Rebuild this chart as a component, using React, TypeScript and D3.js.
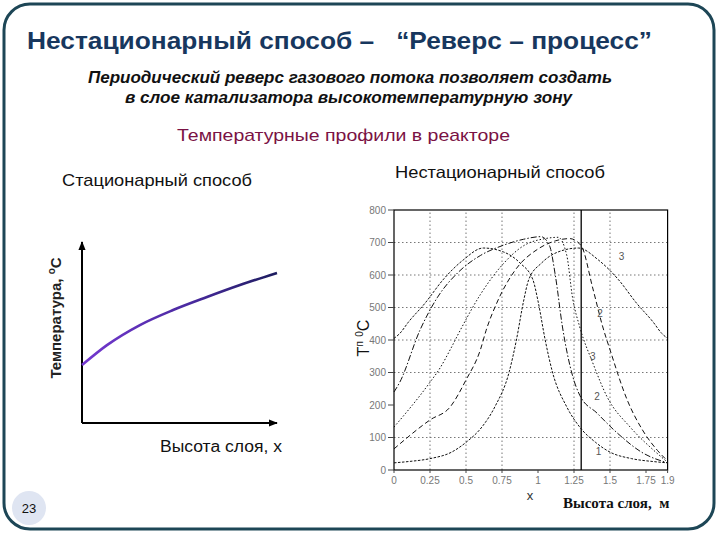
import React from 'react';
import * as d3 from 'd3';

// ---------- data ----------
// Left chart: stationary temperature profile (arbitrary units, no ticks)
const stationaryX = [0, 1.28, 2.97, 4.67, 6.41, 8.1, 10];
const stationaryT = [3.2, 4.3, 5.41, 6.24, 6.96, 7.62, 8.29];

// Right chart: axis ticks
const xTicks = [0, 0.25, 0.5, 0.75, 1, 1.25, 1.5, 1.75, 1.9];
const xTickLabels = ['0', '0.25', '0.5', '0.75', '1', '1.25', '1.5', '1.75', '1.9'];
const yTicks = [0, 100, 200, 300, 400, 500, 600, 700, 800];
const xGrid = [0.25, 0.5, 0.75, 1.25, 1.5];
const yGrid = [100, 300, 400, 500, 600, 700];
const reversalX = 1.3;

// Right chart: temperature profiles [x, T]
const profileA: [number, number][] = [
  [0, 405], [0.04, 420], [0.1, 455], [0.215, 513], [0.34, 585], [0.48, 646], [0.62, 683],
  [0.76, 671], [0.875, 637], [0.965, 585], [1.0, 520], [1.05, 400], [1.1, 302], [1.2, 194],
  [1.29, 132], [1.4, 85], [1.5, 55], [1.65, 35], [1.8, 26], [1.9, 22],
];
const profileB: [number, number][] = [
  [0, 22], [0.1, 26], [0.25, 35], [0.4, 55], [0.5, 85], [0.61, 132], [0.7, 194], [0.8, 302],
  [0.85, 400], [0.9, 520], [0.935, 585], [1.025, 637], [1.14, 671], [1.28, 683], [1.42, 646],
  [1.56, 585], [1.685, 513], [1.8, 455], [1.86, 420], [1.9, 405],
];
const profileF: [number, number][] = [
  [0, 240], [0.04, 270], [0.18, 430], [0.3, 530], [0.45, 610], [0.6, 660], [0.75, 690],
  [0.9, 710], [1.02, 718], [1.08, 690], [1.12, 600], [1.17, 440], [1.24, 290], [1.29, 230],
  [1.41, 175], [1.55, 114], [1.73, 52], [1.9, 22],
];
const profileE: [number, number][] = [
  [0, 132], [0.25, 270], [0.32, 314], [0.39, 370], [0.46, 430], [0.6, 540], [0.75, 630],
  [0.9, 690], [1.05, 712], [1.14, 716], [1.2, 660], [1.24, 530], [1.29, 440], [1.38, 330],
  [1.48, 225], [1.64, 132], [1.8, 62], [1.9, 24],
];
const profileD: [number, number][] = [
  [0, 65], [0.25, 154], [0.39, 194], [0.5, 277], [0.6, 370], [0.64, 430], [0.72, 520],
  [0.85, 620], [1.0, 680], [1.12, 705], [1.22, 712], [1.3, 690], [1.38, 560], [1.45, 440],
  [1.5, 370], [1.62, 215], [1.73, 120], [1.83, 60], [1.9, 28],
];
const curveLabels: { x: number; t: number; text: string }[] = [
  { x: 1.58, t: 646, text: '3' },
  { x: 1.43, t: 470, text: '2' },
  { x: 1.38, t: 338, text: '3' },
  { x: 1.41, t: 215, text: '2' },
  { x: 1.42, t: 46, text: '1' },
];

// ---------- component ----------
export default function App() {
  // left chart scales
  const lx = d3.scaleLinear().domain([0, 10]).range([82, 277]);
  const ly = d3.scaleLinear().domain([0, 10]).range([423, 242]);
  const stationaryLine = d3
    .line<number>()
    .x((_, i) => lx(stationaryX[i]))
    .y((d) => ly(d))
    .curve(d3.curveMonotoneX);

  // right chart scales
  const rx = d3.scaleLinear().domain([0, 1.9]).range([394, 667.6]);
  const ry = d3.scaleLinear().domain([0, 800]).range([470, 210]);
  const prof = d3
    .line<[number, number]>()
    .x((d) => rx(d[0]))
    .y((d) => ry(d[1]))
    .curve(d3.curveMonotoneX);

  const profiles: { data: [number, number][]; dash: string }[] = [
    { data: profileA, dash: '2.5,1.5' },
    { data: profileB, dash: '2.5,1.5' },
    { data: profileF, dash: '6,2,1.5,2' },
    { data: profileE, dash: '1.5,2' },
    { data: profileD, dash: '5,3' },
  ];

  const font = "'Liberation Sans', Arial, sans-serif";

  return (
    <svg
      width={720}
      height={540}
      style={{ position: 'absolute', left: 0, top: 0, background: '#fff' }}
      fontFamily={font}
    >
      <defs>
        <linearGradient id="purp" x1="0" x2="1" y1="0" y2="0">
          <stop offset="0%" stopColor="#7438d0" />
          <stop offset="55%" stopColor="#4a2aa0" />
          <stop offset="100%" stopColor="#1c1c5e" />
        </linearGradient>
        <marker id="arr" viewBox="0 0 10 10" refX="9" refY="5" markerWidth="9" markerHeight="9" orient="auto" markerUnits="userSpaceOnUse">
          <path d="M0,1 L10,5 L0,9 Z" fill="#000" />
        </marker>
      </defs>

      {/* slide frame */}
      <rect x={4} y={4} width={710} height={525} rx={26} fill="#fff" stroke="#1d4656" strokeWidth={3} />

      {/* titles */}
      <text x={27} y={49} fontSize={24} fontWeight="bold" fill="#17375e" textLength={625} lengthAdjust="spacingAndGlyphs" xmlSpace="preserve" style={{ whiteSpace: 'pre' }}>
        {'Нестационарный способ –   “Реверс – процесс”'}
      </text>
      <text x={88} y={83} fontSize={16} fontWeight="bold" fontStyle="italic" fill="#111" textLength={524} lengthAdjust="spacingAndGlyphs">
        Периодический реверс газового потока позволяет создать
      </text>
      <text x={125} y={103} fontSize={16} fontWeight="bold" fontStyle="italic" fill="#111" textLength={447} lengthAdjust="spacingAndGlyphs">
        в слое катализатора высокотемпературную зону
      </text>
      <text x={177} y={141} fontSize={17} fill="#7a1244" textLength={333} lengthAdjust="spacingAndGlyphs">
        Температурные профили в реакторе
      </text>

      {/* left chart */}
      <text x={62} y={186} fontSize={17} fill="#111" textLength={190} lengthAdjust="spacingAndGlyphs">Стационарный способ</text>
      <line x1={lx(0)} y1={ly(0)} x2={lx(0)} y2={ly(10)} stroke="#000" strokeWidth={2} markerEnd="url(#arr)" />
      <line x1={lx(0)} y1={ly(0)} x2={lx(10)} y2={ly(0)} stroke="#000" strokeWidth={2} markerEnd="url(#arr)" />
      <path d={stationaryLine(stationaryT) || ''} fill="none" stroke="url(#purp)" strokeWidth={2.6} />
      <text transform="translate(61,318) rotate(-90)" fontSize={15} textAnchor="middle" fill="#222" fontWeight="600">
        Температура, <tspan fontSize={10} dy={-6}>o</tspan><tspan dy={6}>C</tspan>
      </text>
      <text x={160} y={452} fontSize={16} fill="#111" textLength={122} lengthAdjust="spacingAndGlyphs">Высота слоя, х</text>

      {/* right chart */}
      <text x={395} y={178} fontSize={16.5} fill="#111" textLength={210} lengthAdjust="spacingAndGlyphs">Нестационарный способ</text>

      {/* grid */}
      {yGrid.map((t) => (
        <line key={'gy' + t} x1={rx(0)} x2={rx(1.9)} y1={ry(t)} y2={ry(t)} stroke="#777" strokeWidth={1} strokeDasharray="1.5,2.5" />
      ))}
      {xGrid.map((x) => (
        <line key={'gx' + x} x1={rx(x)} x2={rx(x)} y1={ry(0)} y2={ry(800)} stroke="#777" strokeWidth={1} strokeDasharray="1.5,2.5" />
      ))}

      {/* frame */}
      <rect x={rx(0)} y={ry(800)} width={rx(1.9) - rx(0)} height={ry(0) - ry(800)} fill="none" stroke="#000" strokeWidth={1.2} />

      {/* ticks */}
      {yTicks.map((t) => (
        <g key={'yt' + t}>
          <line x1={rx(0) - 6} x2={rx(0)} y1={ry(t)} y2={ry(t)} stroke="#444" strokeWidth={1} />
          <text x={rx(0) - 8} y={ry(t) + 3.5} fontSize={10} textAnchor="end" fill="#777">{t}</text>
        </g>
      ))}
      {xTicks.map((x, i) => (
        <g key={'xt' + x}>
          <line x1={rx(x)} x2={rx(x)} y1={ry(0)} y2={ry(0) + 3} stroke="#444" strokeWidth={1} />
          <text x={rx(x)} y={ry(0) + 14} fontSize={10} textAnchor="middle" fill="#777">{xTickLabels[i]}</text>
        </g>
      ))}

      {/* reversal line */}
      <line x1={rx(reversalX)} x2={rx(reversalX)} y1={ry(0)} y2={ry(800)} stroke="#000" strokeWidth={1.3} />

      {/* profiles */}
      {profiles.map((p, i) => (
        <path key={'p' + i} d={prof(p.data) || ''} fill="none" stroke="#111" strokeWidth={1} strokeDasharray={p.dash} />
      ))}
      {curveLabels.map((c, i) => (
        <text key={'cl' + i} x={rx(c.x)} y={ry(c.t)} fontSize={10} fill="#555" textAnchor="middle">{c.text}</text>
      ))}

      {/* axis labels */}
      <text transform="translate(369,338) rotate(-90)" fontSize={16} textAnchor="middle" fill="#111">
        Т<tspan fontSize={10} dy={-6}>п</tspan><tspan dy={6}> </tspan><tspan fontSize={10} dy={-6}>0</tspan><tspan dy={6}>C</tspan>
      </text>
      <text x={530} y={500} fontSize={13} textAnchor="middle" fill="#333">x</text>
      <text x={563} y={508} fontSize={15} fontWeight="bold" fontFamily="'Liberation Serif', 'Times New Roman', serif" fill="#111" xmlSpace="preserve" style={{ whiteSpace: 'pre' }}>
        {'Высота слоя,  м'}
      </text>

      {/* page number */}
      <circle cx={29} cy={508} r={17} fill="#dfe5f2" />
      <text x={29} y={513} fontSize={13} textAnchor="middle" fill="#111">23</text>
    </svg>
  );
}
